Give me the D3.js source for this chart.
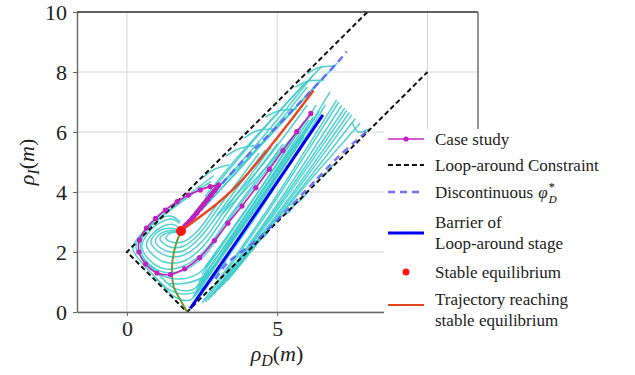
<!DOCTYPE html>
<html>
<head>
<meta charset="utf-8">
<script src="https://cdn.jsdelivr.net/npm/d3@7"></script>
<style>
body { margin: 0; background: #fff; }
</style>
</head>
<body>
<svg id="chart" width="635" height="375"></svg>
<script>
// ticks
const xTicks = [0, 5, 10];
const yTicks = [0, 2, 4, 6, 8, 10];

// loop-around constraint (corner of the admissible strip)
const constraint = [[8, 10], [0, 2], [2, 0], [10, 8]];

// discontinuous phi_D*
const phiUpper = [[2.9, 3.98], [3.77, 4.95], [4.82, 6.01], [6.98, 8.29], [7.31, 8.68]];
const phiLower = [[2.95, 1.1], [3.33, 1.62], [4.32, 2.4], [5.87, 3.96], [7.04, 5.18], [8.04, 6.07]];

// barrier of loop-around stage
const barrier = [[2.11, 0.12], [4.3, 3.3], [6.52, 6.57]];

// stable equilibrium and its trajectories
const equilibrium = [1.8, 2.7];
const greenCurve = [[1.8, 2.7], [1.61, 2.18], [1.5, 1.51], [1.56, 0.84], [1.78, 0.4], [2.0, 0.01]];
const redTrajectory = [[1.8, 2.7], [2.1, 2.93], [2.44, 3.18], [3.0, 3.6], [3.55, 4.08], [4.05, 4.64], [4.55, 5.24], [5.4, 6.3], [6.21, 7.39]];

// case study (markers at every sample)
const caseStudy = [[6.12, 6.62], [5.65, 6.01], [5.19, 5.38], [4.74, 4.76], [4.29, 4.14], [3.83, 3.53],
  [3.36, 2.96], [2.91, 2.38], [2.42, 1.81], [1.92, 1.44], [1.45, 1.25], [1.0, 1.3], [0.62, 1.6],
  [0.4, 2.0], [0.42, 2.4], [0.65, 2.8], [0.95, 3.12], [1.28, 3.4], [1.67, 3.68], [2.05, 3.9],
  [2.44, 4.07], [2.77, 4.18], [3.05, 4.23]];
const caseStudyTail = [[3.05, 4.23], [2.92, 4.05], [2.8, 3.9], [2.68, 3.75], [2.56, 3.6], [2.44, 3.45],
  [2.32, 3.3], [2.2, 3.15], [2.08, 3.02], [1.96, 2.9], [1.85, 2.78]];

// streamlines looping around the equilibrium
const loopStreams = [
  [[5.6, 5.4], [3.6, 2.6], [2.6, 1.0], [2.1, 0.4], [1.6, 0.5], [1.0, 1.1], [0.45, 1.7], [0.2, 2.1], [0.35, 2.45], [0.9, 3.0], [1.6, 3.55], [2.3, 4.1], [2.9, 4.55]],
  [[5.8, 5.9], [3.8, 3.0], [2.8, 1.4], [2.2, 0.75], [1.6, 0.78], [1.05, 1.25], [0.55, 1.75], [0.3, 2.15], [0.45, 2.5], [1.0, 3.05], [1.6, 3.5], [2.2, 3.95], [2.8, 4.35]],
  [[5.2, 5.6], [3.5, 3.3], [2.5, 1.95], [1.8, 1.5], [1.2, 1.45], [0.7, 1.78], [0.5, 2.2], [0.7, 2.62], [1.1, 2.98], [1.5, 3.1], [1.75, 2.95]],
  [[5.0, 5.6], [3.4, 3.4], [2.5, 2.15], [1.9, 1.7], [1.3, 1.65], [0.85, 1.92], [0.65, 2.25], [0.85, 2.6], [1.2, 2.86], [1.55, 2.92], [1.75, 2.8]],
  [[4.8, 5.5], [3.3, 3.45], [2.5, 2.35], [1.9, 1.9], [1.4, 1.85], [1.0, 2.05], [0.8, 2.3], [0.95, 2.6], [1.3, 2.78], [1.7, 2.75]],
  [[4.6, 5.4], [3.2, 3.5], [2.45, 2.5], [1.9, 2.05], [1.45, 2.0], [1.1, 2.15], [0.95, 2.35], [1.1, 2.6], [1.45, 2.72], [1.75, 2.7]],
  [[4.4, 5.3], [3.1, 3.55], [2.4, 2.6], [1.9, 2.2], [1.5, 2.15], [1.2, 2.3], [1.1, 2.45], [1.3, 2.62], [1.75, 2.68]],
  [[3.0, 3.6], [2.35, 2.7], [1.9, 2.35], [1.55, 2.32], [1.3, 2.45], [1.4, 2.6], [1.75, 2.68]],
  [[5.4, 5.7], [3.6, 3.35], [2.55, 1.85], [1.85, 1.38], [1.15, 1.35], [0.6, 1.75], [0.45, 2.15], [0.6, 2.65], [1.0, 3.05], [1.45, 3.2], [1.78, 3.0]],
  [[3.0, 2.0], [2.4, 1.3], [1.8, 1.1], [1.2, 1.2], [0.75, 1.55]],
  [[3.1, 1.75], [2.5, 1.15], [1.9, 0.95], [1.4, 0.95]],
  [[3.3, 1.7], [2.6, 0.85], [2.0, 0.6], [1.45, 0.72], [0.9, 1.2]]
];

// long streamlines along the diagonal strip
const diagStreams = [
  [[2.2, 0.5], [3.5, 2.4], [5.5, 5.3], [6.4, 6.7]],
  [[2.3, 0.8], [3.6, 2.7], [5.6, 5.6], [6.2, 6.5]],
  [[2.25, 0.55], [3.8, 2.75], [5.9, 5.85]],
  [[2.3, 0.7], [3.9, 3.0], [6.0, 6.15]],
  [[2.4, 1.0], [4.0, 3.3], [6.05, 6.4]],
  [[2.5, 1.25], [4.1, 3.6], [5.9, 6.35]],
  [[2.6, 1.5], [4.3, 3.9], [6.3, 6.9]],
  [[2.4, 0.9], [4.4, 3.6], [6.76, 7.34]],
  [[2.35, 0.4], [4.5, 3.5], [6.6, 6.9]],
  [[2.5, 0.3], [4.6, 3.3], [6.98, 7.07]],
  [[2.6, 0.35], [4.7, 3.35], [7.05, 7.0]],
  [[2.7, 0.4], [4.8, 3.3], [7.15, 6.9]],
  [[2.8, 0.5], [4.9, 3.35], [7.25, 6.8]],
  [[2.9, 0.6], [5.0, 3.4], [7.32, 6.73]],
  [[3.05, 0.75], [5.1, 3.4], [7.4, 6.65]],
  [[3.2, 0.9], [5.2, 3.45], [7.48, 6.57]],
  [[3.35, 1.05], [5.35, 3.55], [7.6, 6.45]],
  [[3.5, 1.25], [5.5, 3.7], [7.76, 6.29]],
  [[3.0, 3.2], [4.5, 4.9], [6.0, 6.9]],
  [[3.2, 3.3], [4.7, 4.9], [6.1, 6.55]]
];

// streamlines in the upper part, flowing into the equilibrium
const upperStreams = [
  [[6.2, 7.9], [5.0, 6.4], [3.8, 5.0], [2.8, 3.9], [2.2, 3.2], [1.85, 2.8]],
  [[6.0, 7.5], [4.8, 6.0], [3.6, 4.6], [2.6, 3.55], [2.1, 3.0], [1.82, 2.75]],
  [[6.5, 8.2], [5.4, 7.05], [4.2, 5.7], [3.2, 4.5], [2.4, 3.5], [1.9, 2.85]],
  [[7.0, 8.3], [5.8, 7.0], [4.6, 5.7], [3.4, 4.4], [2.5, 3.4]],
  [[6.6, 7.9], [5.3, 6.5], [4.0, 5.1], [3.0, 4.1], [2.2, 3.1]],
  [[5.9, 7.6], [4.7, 6.3], [3.5, 4.95], [2.6, 3.85]]
];

// short arcs near the constraint lines
const edgeArcs = [
  [[2.5, 4.45], [2.9, 4.75], [3.4, 4.9]],
  [[3.3, 5.2], [3.75, 5.45], [4.25, 5.55]],
  [[3.9, 5.8], [4.35, 6.05], [4.85, 6.1]],
  [[4.6, 6.5], [5.1, 6.72], [5.65, 6.75]],
  [[5.6, 7.5], [6.05, 7.7], [6.55, 7.72]],
  [[6.0, 7.95], [6.4, 8.15], [6.9, 8.2]],
  [[3.3, 1.45], [3.6, 1.5], [3.9, 1.75]],
  [[3.7, 1.85], [4.05, 1.95], [4.3, 2.25]],
  [[4.2, 2.35], [4.5, 2.45], [4.75, 2.75]],
  [[5.0, 3.15], [5.35, 3.3], [5.6, 3.6]],
  [[5.4, 3.55], [5.75, 3.7], [6.0, 4.0]],
  [[6.3, 4.45], [6.6, 4.6], [6.85, 4.9]],
  [[7.5, 6.3], [7.7, 6.0], [8.05, 6.1]]
];

const legendLabels = [
  ["Case study"],
  ["Loop-around Constraint"],
  ["Discontinuous"],
  ["Barrier of", "Loop-around stage"],
  ["Stable equilibrium"],
  ["Trajectory reaching", "stable equilibrium"]
];

const serif = '"Liberation Serif"';
const svg = d3.select("#chart");
const x = d3.scaleLinear().domain([-1.66, 11.68]).range([77, 478]);
const y = d3.scaleLinear().domain([0, 10]).range([312, 12]);
const legendLeft = 384;

const smooth = d3.line().x(d => x(d[0])).y(d => y(d[1])).curve(d3.curveCatmullRom.alpha(0.5));
const straight = d3.line().x(d => x(d[0])).y(d => y(d[1]));
const soft = d3.line().x(d => x(d[0])).y(d => y(d[1])).curve(d3.curveBasis);

svg.append("defs").append("clipPath").attr("id", "plotclip")
  .append("rect").attr("x", 77).attr("y", 12).attr("width", 401).attr("height", 300);

// grid
const grid = svg.append("g");
grid.selectAll(".gx").data(xTicks).enter().append("line")
  .attr("x1", d => x(d)).attr("x2", d => x(d)).attr("y1", 12).attr("y2", 312)
  .attr("stroke", "#d4d4d4").attr("stroke-width", 1);
grid.selectAll(".gy").data(yTicks).enter().append("line")
  .attr("y1", d => y(d)).attr("y2", d => y(d)).attr("x1", 77).attr("x2", 478)
  .attr("stroke", "#d4d4d4").attr("stroke-width", 1);

const plot = svg.append("g").attr("clip-path", "url(#plotclip)");

// streamlines
const cyan = plot.append("g").attr("fill", "none").attr("stroke", "#3ecccc")
  .attr("stroke-width", 1.5).attr("stroke-opacity", 0.9);
cyan.selectAll(".loop").data(loopStreams).enter().append("path").attr("d", smooth);
cyan.selectAll(".diag").data(diagStreams).enter().append("path").attr("d", smooth);
cyan.selectAll(".upper").data(upperStreams).enter().append("path").attr("d", smooth);
cyan.selectAll(".arc").data(edgeArcs).enter().append("path").attr("d", smooth);

// constraint
plot.append("path").attr("d", straight(constraint)).attr("fill", "none")
  .attr("stroke", "#111").attr("stroke-width", 2).attr("stroke-dasharray", "5,3");

// discontinuous phi
plot.selectAll(".phi").data([phiUpper, phiLower]).enter().append("path")
  .attr("d", smooth).attr("fill", "none").attr("stroke", "#5a5aff").attr("stroke-opacity", 0.85)
  .attr("stroke-width", 2.5).attr("stroke-dasharray", "7,5");

// barrier
plot.append("path").attr("d", smooth(barrier)).attr("fill", "none")
  .attr("stroke", "#0000ee").attr("stroke-width", 3);

// green curve
plot.append("path").attr("d", smooth(greenCurve)).attr("fill", "none")
  .attr("stroke", "#6b9e3a").attr("stroke-width", 2);

// case study
plot.append("path").attr("d", smooth(caseStudy)).attr("fill", "none")
  .attr("stroke", "#c020c0").attr("stroke-width", 1.6);
plot.append("path").attr("d", straight(caseStudyTail)).attr("fill", "none")
  .attr("stroke", "#c020c0").attr("stroke-width", 4.5);
plot.selectAll(".cs").data(caseStudy.concat(caseStudyTail)).enter().append("circle")
  .attr("cx", d => x(d[0])).attr("cy", d => y(d[1])).attr("r", 2.6).attr("fill", "#c020c0");

// red trajectory and equilibrium
plot.append("path").attr("d", soft(redTrajectory)).attr("fill", "none")
  .attr("stroke", "#e8441e").attr("stroke-width", 2.4);
plot.append("circle").attr("cx", x(equilibrium[0])).attr("cy", y(equilibrium[1]))
  .attr("r", 5).attr("fill", "#ff1414");

// axes (the x tick at 10 sits under the legend, so it is left out)
const xAxis = svg.append("g").attr("transform", "translate(0,312)")
  .call(d3.axisBottom(x).tickValues(xTicks.filter(v => x(v) < legendLeft))
    .tickSize(4).tickSizeOuter(0).tickPadding(4).tickFormat(d3.format("d")));
const yAxis = svg.append("g").attr("transform", "translate(77,0)")
  .call(d3.axisLeft(y).tickValues(yTicks).tickSize(4).tickSizeOuter(0).tickPadding(6).tickFormat(d3.format("d")));
[xAxis, yAxis].forEach(a => {
  a.select(".domain").attr("stroke", "#666").attr("stroke-width", 1.4);
  a.selectAll(".tick line").attr("stroke", "#666");
  a.selectAll(".tick text").attr("font-size", 22).attr("fill", "#222");
});
svg.append("line").attr("x1", 77).attr("x2", 478).attr("y1", 12).attr("y2", 12)
  .attr("stroke", "#333").attr("stroke-width", 1.4);
svg.append("line").attr("x1", 478).attr("x2", 478).attr("y1", 12).attr("y2", 312)
  .attr("stroke", "#666").attr("stroke-width", 1.4);

// axis labels
const xl = svg.append("text").attr("x", 277).attr("y", 361).attr("text-anchor", "middle")
  .attr("font-size", 22).attr("fill", "#222");
xl.append("tspan").attr("font-style", "italic").text("ρ");
xl.append("tspan").attr("font-style", "italic").attr("font-size", 16).attr("dy", 5).text("D");
xl.append("tspan").attr("dy", -5).text("(");
xl.append("tspan").attr("font-style", "italic").text("m");
xl.append("tspan").text(")");

const yl = svg.append("text").attr("transform", "translate(34,162) rotate(-90)")
  .attr("text-anchor", "middle").attr("font-size", 22).attr("fill", "#222");
yl.append("tspan").attr("font-style", "italic").text("ρ");
yl.append("tspan").attr("font-style", "italic").attr("font-size", 16).attr("dy", 5).text("I");
yl.append("tspan").attr("dy", -5).text("(");
yl.append("tspan").attr("font-style", "italic").text("m");
yl.append("tspan").text(")");

// legend (white box, no frame, covering the plot's right part)
const lg = svg.append("g");
lg.append("rect").attr("x", legendLeft).attr("y", 129).attr("width", 635 - legendLeft).attr("height", 246).attr("fill", "#fff");
const handleY = [139, 165, 192, 233, 272, 305];
const textY = [[139], [165], [192], [222.5, 243.5], [272], [299.5, 320.5]];
const hx0 = 388, hx1 = 424, tx = 435;
lg.append("line").attr("x1", hx0).attr("x2", hx1).attr("y1", handleY[0]).attr("y2", handleY[0])
  .attr("stroke", "#c020c0").attr("stroke-width", 1.6);
lg.append("circle").attr("cx", (hx0 + hx1) / 2).attr("cy", handleY[0]).attr("r", 2.6).attr("fill", "#c020c0");
lg.append("line").attr("x1", hx0).attr("x2", hx1).attr("y1", handleY[1]).attr("y2", handleY[1])
  .attr("stroke", "#111").attr("stroke-width", 1.8).attr("stroke-dasharray", "5,3");
lg.append("line").attr("x1", hx0).attr("x2", hx1).attr("y1", handleY[2]).attr("y2", handleY[2])
  .attr("stroke", "#5a5aff").attr("stroke-opacity", 0.85).attr("stroke-width", 2.5).attr("stroke-dasharray", "7,5");
lg.append("line").attr("x1", hx0).attr("x2", hx1).attr("y1", handleY[3]).attr("y2", handleY[3])
  .attr("stroke", "#0000ee").attr("stroke-width", 3);
lg.append("circle").attr("cx", (hx0 + hx1) / 2).attr("cy", handleY[4]).attr("r", 3.5).attr("fill", "#ff1414");
lg.append("line").attr("x1", hx0).attr("x2", hx1).attr("y1", handleY[5]).attr("y2", handleY[5])
  .attr("stroke", "#e8441e").attr("stroke-width", 2.2);

legendLabels.forEach((lines, i) => {
  lines.forEach((s, j) => {
    const t = lg.append("text").attr("x", tx).attr("y", textY[i][j]).attr("dy", "0.35em")
      .attr("font-size", 17).attr("fill", "#222").style("font-family", serif).text(s);
    if (i === 2) {
      const w = t.node().getComputedTextLength() + 5;
      const base = textY[i][j] + 6;
      const phi = lg.append("text").attr("x", tx + w).attr("y", base).attr("font-size", 17)
        .attr("font-style", "italic").attr("fill", "#222").style("font-family", serif).text("φ");
      const pw = phi.node().getComputedTextLength();
      lg.append("text").attr("x", tx + w + pw + 1).attr("y", base - 7).attr("font-size", 12).text("*");
      lg.append("text").attr("x", tx + w + pw + 1).attr("y", base + 5).attr("font-size", 11)
        .attr("font-style", "italic").text("D");
    }
  });
});

// serif everywhere (inline style so nothing overrides it)
svg.selectAll("text").style("font-family", serif);
</script>
</body>
</html>
